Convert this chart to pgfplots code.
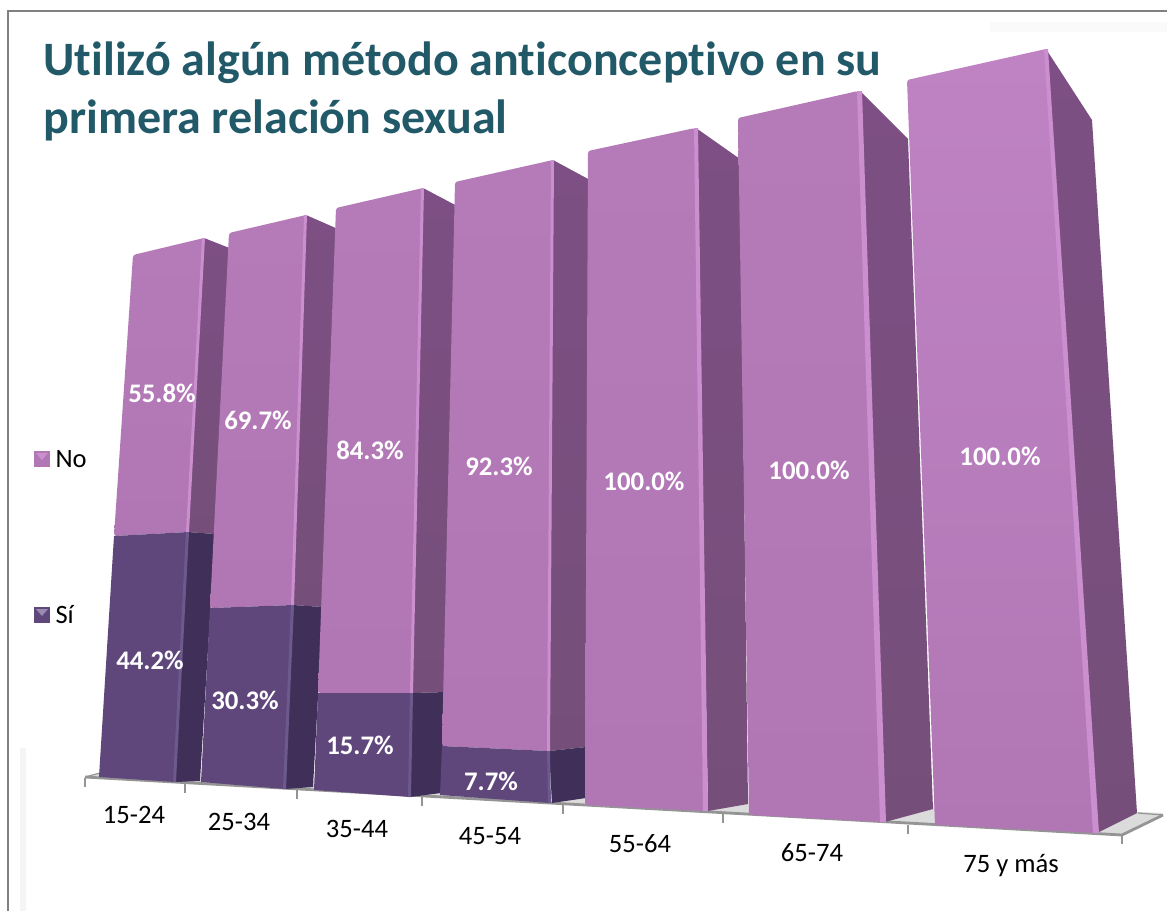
\documentclass[border=0pt]{standalone}
\usepackage{pgfplots}
\pgfplotsset{compat=1.18}
\usepackage{fontspec}
\setmainfont[Ligatures=NoCommon]{Carlito}

\definecolor{titlec}{HTML}{215968}
\definecolor{noA}{HTML}{B47BB8}
\definecolor{noB}{HTML}{B177B4}
\definecolor{noC}{HTML}{BF83C4}
\definecolor{noside}{HTML}{754F79}
\definecolor{nosideT}{HTML}{7D4F84}
\definecolor{noedge}{HTML}{CB8ECF}
\definecolor{siA}{HTML}{5F477C}
\definecolor{siside}{HTML}{402F59}
\definecolor{siedge}{HTML}{6C5A8C}

% one filled polygon, corners in picture pixels
\newcommand{\face}[2]{\addplot[draw=none,#1] coordinates {#2} --cycle;}

\begin{document}
\begin{tikzpicture}
\begin{axis}[
    scale only axis,
    width=1167pt, height=911pt,
    xmin=0, xmax=1167,
    ymin=0, ymax=911,
    y dir=reverse,
    hide axis,
]
% page area, frame and faint backdrop
\face{fill=white}{(0,0) (1167,0) (1167,911) (0,911)}
\face{fill=black!2}{(990,22) (1167,22) (1167,32) (990,32)}
\face{fill=black!4}{(20,748) (26,748) (26,911) (20,911)}
\addplot[draw=gray,line width=2pt] coordinates {(1167,11) (8,11) (8,911)};

% floor
\face{fill=black!14}{(85,778) (100,773) (1163,813) (1122,834)}
\addplot[draw=black!42,line width=2.8pt] coordinates {(85,777) (1122,835) (1163,815)};
\addplot[draw=black!42,line width=1.2pt] coordinates {(85,777) (100,773)};
\addplot[draw=black!42,line width=1.2pt] coordinates {(1163,815) (1138,813)};
\addplot[draw=black!42,line width=1.2pt] coordinates {(85,778) (85,787)};
\addplot[draw=black!42,line width=1.2pt] coordinates {(185,784) (185,793)};
\addplot[draw=black!42,line width=1.2pt] coordinates {(297,790) (297,799)};
\addplot[draw=black!42,line width=1.2pt] coordinates {(422,797) (422,806)};
\addplot[draw=black!42,line width=1.2pt] coordinates {(563,805) (563,814)};
\addplot[draw=black!42,line width=1.2pt] coordinates {(723,814) (723,823)};
\addplot[draw=black!42,line width=1.2pt] coordinates {(908,825) (908,834)};
\addplot[draw=black!42,line width=1.2pt] coordinates {(1122,836) (1122,844)};

% 15-24
\face{top color=nosideT,bottom color=noside}{(204,238) (232,249) (215,534) (188,532)}
\face{fill=siside}{(188,532) (215,534) (200,781) (175,782)}
\face{top color=noA,bottom color=noB,rounded corners=2.5pt}{(133,255) (204,238) (188,532) (114,536)}
\face{fill=siA}{(114,536) (188,532) (175,782) (99,777)}
\face{fill=noedge}{(202,238) (205,238) (189,532) (186,532)}
\face{fill=siedge}{(186,532) (189,532) (176,782) (173,782)}

% 25-34
\face{top color=nosideT,bottom color=noside}{(306,215) (338,229) (323,607) (293,605)}
\face{fill=siside}{(293,605) (323,607) (313,787) (285,789)}
\face{top color=noA,bottom color=noB,rounded corners=2.5pt}{(229,233) (306,215) (293,605) (210,608)}
\face{fill=siA}{(210,608) (293,605) (285,789) (201,782)}
\face{fill=noedge}{(304,215) (307,215) (294,605) (291,605)}
\face{fill=siedge}{(291,605) (294,605) (286,789) (283,789)}

% 35-44
\face{top color=nosideT,bottom color=noside}{(423,188) (459,207) (446,692) (412,693)}
\face{fill=siside}{(412,693) (446,692) (441,793) (410,797)}
\face{top color=noA,bottom color=noB,rounded corners=2.5pt}{(336,208) (423,188) (412,693) (318,693)}
\face{fill=siA}{(318,693) (412,693) (410,797) (314,790)}
\face{fill=noedge}{(421,188) (424,188) (413,693) (410,693)}
\face{fill=siedge}{(410,693) (413,693) (411,797) (408,797)}

% 45-54
\face{top color=nosideT,bottom color=noside}{(553,160) (590,180) (586,747) (549,751)}
\face{fill=siside}{(549,751) (586,747) (586,798) (552,803)}
\face{top color=noA,bottom color=noB,rounded corners=2.5pt}{(455,182) (553,160) (549,751) (442,746)}
\face{fill=siA}{(442,746) (549,751) (550,803) (440,795)}
\face{fill=noedge}{(551,160) (554,160) (550,751) (547,751)}
\face{fill=siedge}{(547,751) (550,751) (551,803) (548,803)}

% 55-64
\face{top color=nosideT,bottom color=noside}{(696,128) (740,159) (748,804) (708,811)}
\face{top color=noA,bottom color=noB,rounded corners=2.5pt}{(588,151) (695,128) (705,811) (585,805)}
\face{fill=noedge}{(694,128) (698,128) (708,811) (703,811)}

% 65-74
\face{top color=nosideT,bottom color=noside}{(860,91) (908,139) (933,809) (885,822)}
\face{top color=noA,bottom color=noB,rounded corners=2.5pt}{(738,118) (858,91) (883,822) (749,815)}
\face{fill=noedge}{(857,91) (862,91) (886,822) (880,822)}

% 75 y mas
\face{top color=nosideT,bottom color=noside}{(1046,49) (1092,120) (1137,813) (1097,833)}
\face{top color=noC,bottom color=noB,rounded corners=2.5pt}{(907,80) (1046,49) (1097,833) (935,825)}
\face{fill=noedge}{(1044,49) (1048,49) (1099,833) (1093,833)}

% legend swatches
\face{fill=siA}{(34,607) (50,607) (50,623) (34,623)}
\face{fill=siedge!70!white}{(36,609) (48,609) (42,616)}
\face{fill=noB}{(34,451) (50,451) (50,467) (34,467)}
\face{fill=noedge}{(36,453) (48,453) (42,460)}

% title
\node[anchor=base west,text=titlec,font=\fontsize{48}{52}\selectfont\bfseries] at (axis cs:40,75) {Utilizó algún método anticonceptivo en su};
\node[anchor=base west,text=titlec,font=\fontsize{48}{52}\selectfont\bfseries] at (axis cs:40,133) {primera relación sexual};

% legend text
\node[anchor=west,font=\fontsize{26.5}{30}\selectfont] at (axis cs:52,459) {No};
\node[anchor=west,font=\fontsize{26.5}{30}\selectfont] at (axis cs:52,615) {Sí};

% value labels
\tikzset{val/.style={text=white,font=\fontsize{26.8}{30}\selectfont\bfseries}, cat/.style={text=black,font=\fontsize{26.6}{30}\selectfont}}
\node[val] at (axis cs:162,393) {55.8\%};
\node[val] at (axis cs:258,420) {69.7\%};
\node[val] at (axis cs:370,450) {84.3\%};
\node[val] at (axis cs:499,466) {92.3\%};
\node[val] at (axis cs:644,481) {100.0\%};
\node[val] at (axis cs:809,470) {100.0\%};
\node[val] at (axis cs:1000,456) {100.0\%};
\node[val] at (axis cs:150,660) {44.2\%};
\node[val] at (axis cs:245,700) {30.3\%};
\node[val] at (axis cs:360,745) {15.7\%};
\node[val] at (axis cs:491,781) {7.7\%};

% categories
\node[cat] at (axis cs:134,815) {15-24};
\node[cat] at (axis cs:239,822) {25-34};
\node[cat] at (axis cs:357,829) {35-44};
\node[cat] at (axis cs:490,836) {45-54};
\node[cat] at (axis cs:640,844) {55-64};
\node[cat] at (axis cs:812,853) {65-74};
\node[cat] at (axis cs:1011,866) {75 y más};
\end{axis}
\end{tikzpicture}
\end{document}
